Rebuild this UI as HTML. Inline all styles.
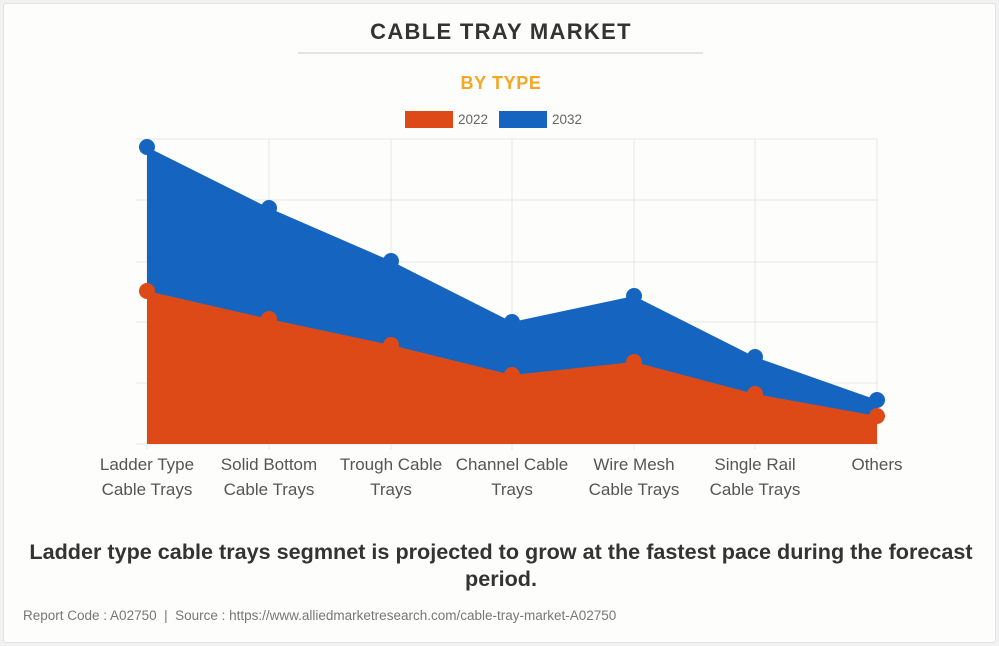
<!DOCTYPE html>
<html><head><style>
html,body{margin:0;padding:0;width:999px;height:646px;background:#f2f2f2;overflow:hidden}
.card{position:absolute;left:3px;top:3px;width:991px;height:638px;background:#fdfdfc;border:1px solid #e2e2e2;border-radius:3px}
svg{position:absolute;left:0;top:0}
</style></head><body>
<div class="card"></div>
<svg width="999" height="646" font-family="Liberation Sans, sans-serif">
<text x="501" y="39" text-anchor="middle" font-size="22" font-weight="bold" fill="#333" letter-spacing="1.3">CABLE TRAY MARKET</text>
<line x1="298" y1="53" x2="703" y2="53" stroke="#ccc" stroke-width="1"/>
<text x="501" y="89" text-anchor="middle" font-size="18" font-weight="bold" fill="#f5a623" letter-spacing="0.6">BY TYPE</text>
<rect x="405" y="111" width="48" height="17" fill="#dd4a17"/>
<text x="458" y="124" font-size="13.5" fill="#666">2022</text>
<rect x="499" y="111" width="48" height="17" fill="#1565c0"/>
<text x="552" y="124" font-size="13.5" fill="#666">2032</text>
<g stroke="#e6e6e6" stroke-width="1">
<line x1="136" y1="139" x2="877" y2="139"/><line x1="136" y1="200" x2="877" y2="200"/>
<line x1="136" y1="262" x2="877" y2="262"/><line x1="136" y1="322" x2="877" y2="322"/>
<line x1="136" y1="383" x2="877" y2="383"/><line x1="136" y1="444" x2="877" y2="444"/>
<line x1="147" y1="139" x2="147" y2="450"/><line x1="269" y1="139" x2="269" y2="450"/>
<line x1="391" y1="139" x2="391" y2="450"/><line x1="512" y1="139" x2="512" y2="450"/>
<line x1="634" y1="139" x2="634" y2="450"/><line x1="755" y1="139" x2="755" y2="450"/>
<line x1="877" y1="139" x2="877" y2="450"/>
</g>
<polygon fill="#1565c0" points="147,147 269,208 391,261 512,322 634,296 755,357 877,400 877,444 147,444"/>
<polygon fill="#dd4a17" points="147,291 269,319 391,345 512,375 634,362 755,394 877,416 877,444 147,444"/>
<g fill="#1565c0"><circle cx="147" cy="147" r="8"/><circle cx="269" cy="208" r="8"/><circle cx="391" cy="261" r="8"/><circle cx="512" cy="322" r="8"/><circle cx="634" cy="296" r="8"/><circle cx="755" cy="357" r="8"/><circle cx="877" cy="400" r="8"/></g>
<g fill="#dd4a17"><circle cx="147" cy="291" r="8"/><circle cx="269" cy="319" r="8"/><circle cx="391" cy="345" r="8"/><circle cx="512" cy="375" r="8"/><circle cx="634" cy="362" r="8"/><circle cx="755" cy="394" r="8"/><circle cx="877" cy="416" r="8"/></g>
<g font-size="17" fill="#555" text-anchor="middle">
<text x="147" y="470">Ladder Type</text><text x="147" y="495">Cable Trays</text>
<text x="269" y="470">Solid Bottom</text><text x="269" y="495">Cable Trays</text>
<text x="391" y="470">Trough Cable</text><text x="391" y="495">Trays</text>
<text x="512" y="470">Channel Cable</text><text x="512" y="495">Trays</text>
<text x="634" y="470">Wire Mesh</text><text x="634" y="495">Cable Trays</text>
<text x="755" y="470">Single Rail</text><text x="755" y="495">Cable Trays</text>
<text x="877" y="470">Others</text>
</g>
<g font-size="21.6" font-weight="bold" fill="#333" text-anchor="middle">
<text x="501" y="559">Ladder type cable trays segmnet is projected to grow at the fastest pace during the forecast</text>
<text x="501" y="586">period.</text>
</g>
<text x="23" y="620" font-size="13.5" fill="#777" xml:space="preserve" style="white-space:pre">Report Code : A02750  |  Source : https://www.alliedmarketresearch.com/cable-tray-market-A02750</text>
</svg>
</body></html>
